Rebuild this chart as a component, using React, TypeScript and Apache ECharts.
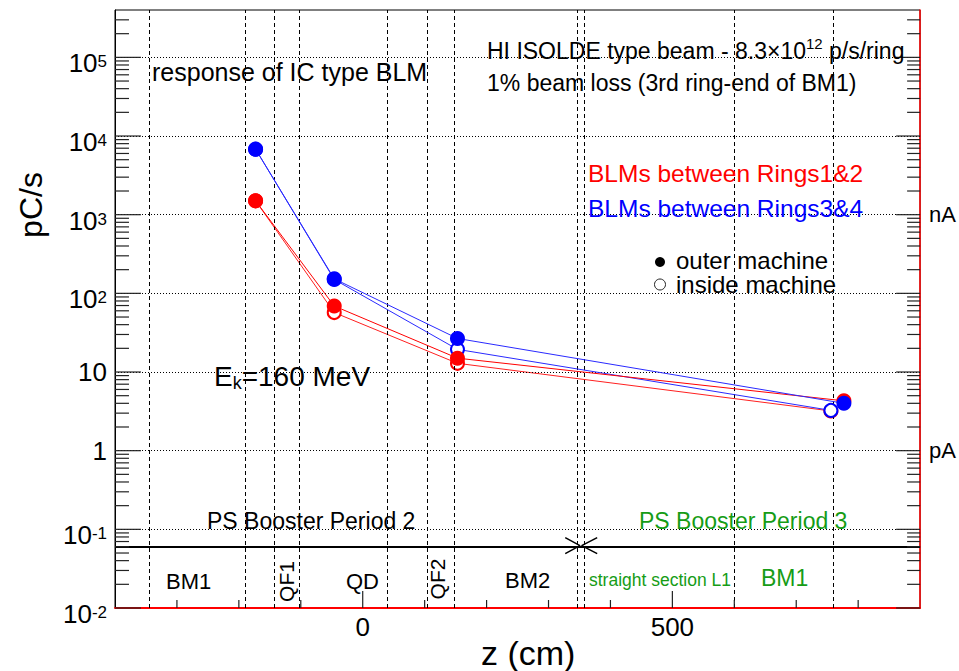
import React, { useEffect, useRef } from 'react';
import * as echarts from 'echarts';

const FONT = '"Liberation Sans", Arial, Helvetica, sans-serif';
const GREEN = '#169c16';

// ---- data (z in cm, response in pC/s) ----
const redOuter = [[-173, 1500], [-46, 69], [153, 15], [777, 4.3]];
const redInside = [[-173, 1500], [-46, 57], [153, 12.9], [756, 3.2]];
const blueOuter = [[-173, 6800], [-46, 153], [153, 26.7], [777, 4.0]];
const blueInside = [[-173, 6800], [-46, 150], [153, 19.4], [756, 3.25]];

// element boundaries along z (cm)
const boundaries = [-344, -190, -143, -103, 39, 105, 147, 347, 358, 600, 760];
// period separator level and junction marks
const periodLevel = 0.062;
const junctionLeft = [[327, 0.0784], [350.8, 0.062], [327, 0.049]];
const junctionRight = [[378.6, 0.0784], [353.5, 0.062], [378.6, 0.049]];

// axis ticks
const xMajorTicks = [0, 500];
const xMinorTicks = [-300, -200, -100, 100, 200, 300, 400, 600, 700, 800];
const yDecades = [0.01, 0.1, 1, 10, 100, 1000, 10000, 100000];
const yGridDecades = [0.1, 1, 10, 100, 1000, 10000, 100000];
const yRightLabels = [1, 1000];
const yRightNames: Record<string, string> = { '1': 'pA', '1000': 'nA' };
const yMinor: number[] = [];
yDecades.forEach((d) => {
  for (let m = 2; m <= 9; m++) {
    const v = +(d * m).toPrecision(6);
    if (v < 4e5) yMinor.push(v);
  }
});

const Y_MIN = 0.01;
const Y_MAX = 4e5;
const X_MIN = -400;
const X_MAX = 900;

// layout
const W = 959;
const H = 671;
const G = { left: 115, right: 38, top: 10, bottom: 63 };
const PX_PER_CM = (W - G.left - G.right) / (X_MAX - X_MIN);
const PX_PER_DEC = (H - G.top - G.bottom) / Math.log10(Y_MAX / Y_MIN);

function yLabel(v: number) {
  const e = Math.round(Math.log10(v));
  if (e === 0) return '{p|1}';
  if (e === 1) return '{p|10}';
  return `{b|10}{s|${e}}`;
}

function T(x: number, y: number, text: string, fontSize: number, fill = '#000', extra: any = {}) {
  return {
    type: 'text',
    x,
    y,
    z: 100,
    silent: true,
    style: { text, fontSize, fontFamily: FONT, fill, align: 'left', verticalAlign: 'middle', ...extra },
  };
}

export default function App() {
  const ref = useRef<HTMLDivElement>(null);
  useEffect(() => {
    if (!ref.current) return;
    const chart = echarts.init(ref.current, undefined, { renderer: 'svg' });

    // guide lines (element boundaries, decade grid, period separator)
    const markData: any[] = [];
    boundaries.forEach((b) =>
      markData.push({ xAxis: b, lineStyle: { type: [4, 3], color: '#000', width: 1 } })
    );
    yGridDecades.forEach((d) =>
      markData.push({ yAxis: d, lineStyle: { type: [1, 2], color: '#000', width: 1 } })
    );
    markData.push({ yAxis: periodLevel, lineStyle: { type: 'solid', color: '#000', width: 2 } });

    // inward tick marks, drawn as short segments through the axes' scales
    const tickSegs: number[][][] = [];
    const xTick = (v: number, len: number) =>
      tickSegs.push([[v, Y_MIN], [v, Y_MIN * Math.pow(10, len / PX_PER_DEC)]]);
    const yTickL = (v: number, len: number) =>
      tickSegs.push([[X_MIN, v], [X_MIN + len / PX_PER_CM, v]]);
    const yTickR = (v: number, len: number) =>
      tickSegs.push([[X_MAX, v], [X_MAX - len / PX_PER_CM, v]]);
    xMajorTicks.forEach((v) => xTick(v, 17));
    xMinorTicks.forEach((v) => xTick(v, 8));
    yDecades.forEach((v) => {
      yTickL(v, 26);
      yTickR(v, 24);
    });
    yMinor.forEach((v) => {
      yTickL(v, 14);
      yTickR(v, 13);
    });
    const tickSeries = tickSegs.map((seg, i) => ({
      type: 'line',
      name: 'tick' + i,
      data: seg,
      symbol: 'none',
      silent: true,
      clip: false,
      z: 9,
      lineStyle: { color: '#222', width: 1.2 },
    }));

    const option: any = {
      animation: false,
      textStyle: { fontFamily: FONT },
      grid: { ...G, show: true, borderColor: '#000', borderWidth: 1 },
      xAxis: [
        {
          type: 'value',
          min: X_MIN,
          max: X_MAX,
          position: 'bottom',
          splitLine: { show: false },
          axisLine: { show: true, onZero: false, lineStyle: { color: '#f00', width: 2 } },
          axisTick: { show: false },
          axisLabel: { customValues: xMajorTicks, fontSize: 26, color: '#000', margin: 6, fontFamily: FONT },
        },
      ],
      yAxis: [
        {
          type: 'log',
          logBase: 10,
          min: Y_MIN,
          max: Y_MAX,
          position: 'left',
          splitLine: { show: false },
          axisLine: { show: true, onZero: false, lineStyle: { color: '#000', width: 1 } },
          axisTick: { show: false },
          axisLabel: {
            customValues: yDecades,
            formatter: yLabel,
            margin: 8,
            color: '#000',
            rich: {
              p: { fontSize: 26, lineHeight: 28, padding: [6, 0, 6, 0], fontFamily: FONT, color: '#000' },
              b: { fontSize: 26, lineHeight: 28, padding: [12, 0, 0, 0], fontFamily: FONT, color: '#000' },
              s: { fontSize: 17, lineHeight: 14, padding: [10, 0, 0, 0], verticalAlign: 'top', fontFamily: FONT, color: '#000' },
            },
          },
        },
        {
          type: 'log',
          logBase: 10,
          min: Y_MIN,
          max: Y_MAX,
          position: 'right',
          splitLine: { show: false },
          axisLine: { show: true, onZero: false, lineStyle: { color: '#f00', width: 1.5 } },
          axisTick: { show: false },
          axisLabel: {
            customValues: yRightLabels,
            formatter: (v: number) => yRightNames[String(Math.round(v))] || '',
            fontSize: 22,
            margin: 9,
            color: '#000',
            fontFamily: FONT,
          },
        },
      ],
      series: [
        {
          type: 'line',
          name: 'guides',
          data: [],
          z: 1,
          silent: true,
          markLine: { silent: true, symbol: 'none', label: { show: false }, animation: false, data: markData },
        },
        ...tickSeries,
        {
          type: 'line',
          name: 'junctionL',
          data: junctionLeft,
          symbol: 'none',
          z: 3,
          lineStyle: { color: '#000', width: 1.5 },
        },
        {
          type: 'line',
          name: 'junctionR',
          data: junctionRight,
          symbol: 'none',
          z: 3,
          lineStyle: { color: '#000', width: 1.5 },
        },
        {
          type: 'line',
          name: 'Rings1&2 inside',
          data: redInside,
          symbol: 'emptyCircle',
          symbolSize: 13,
          z: 4,
          itemStyle: { color: '#ff0000', borderWidth: 1.2 },
          lineStyle: { color: '#ff2020', width: 1 },
        },
        {
          type: 'line',
          name: 'Rings3&4 inside',
          data: blueInside,
          symbol: 'emptyCircle',
          symbolSize: 13,
          z: 5,
          itemStyle: { color: '#0000ff', borderWidth: 1.2 },
          lineStyle: { color: '#2a2aff', width: 1 },
        },
        {
          type: 'line',
          name: 'Rings1&2 outer',
          data: redOuter,
          symbol: 'circle',
          symbolSize: 15,
          z: 6,
          itemStyle: { color: '#ff0000' },
          lineStyle: { color: '#ff0000', width: 1 },
        },
        {
          type: 'line',
          name: 'Rings3&4 outer',
          data: blueOuter,
          symbol: 'circle',
          symbolSize: 15,
          z: 7,
          itemStyle: { color: '#0000ff' },
          lineStyle: { color: '#2a2aff', width: 1 },
        },
      ],
      graphic: [
        T(152, 72, 'response of IC type BLM', 25),
        T(487, 49, '{a|HI ISOLDE type beam - 8.3×10}{s|12}{a| p/s/ring}', 23, '#000', {
          rich: {
            a: { fontSize: 23, lineHeight: 26, verticalAlign: 'bottom', fontFamily: FONT, fill: '#000' },
            s: { fontSize: 15, lineHeight: 10, verticalAlign: 'top', fontFamily: FONT, fill: '#000' },
          },
        }),
        T(487, 83, '1% beam loss (3rd ring-end of BM1)', 23),
        T(588, 173, 'BLMs between Rings1&2', 24.5, '#ff0000'),
        T(588, 208, 'BLMs between Rings3&4', 24.5, '#0000ff'),
        { type: 'circle', z: 100, shape: { cx: 660, cy: 262, r: 5 }, style: { fill: '#000' } },
        { type: 'circle', z: 100, shape: { cx: 660, cy: 284.5, r: 5.5 }, style: { fill: '#fff', stroke: '#222', lineWidth: 1 } },
        T(676, 260, 'outer machine', 24, '#000', { lineHeight: 20 }),
        T(676, 284, 'inside machine', 24, '#000', { lineHeight: 20 }),
        T(214, 377, '{a|E}{k|k}{a|=160 MeV}', 28, '#000', {
          rich: {
            a: { fontSize: 28, lineHeight: 30, verticalAlign: 'top', fontFamily: FONT, fill: '#000' },
            k: { fontSize: 18, lineHeight: 14, verticalAlign: 'bottom', fontFamily: FONT, fill: '#000' },
          },
        }),
        T(207, 521, 'PS Booster Period 2', 23),
        T(639, 521, 'PS Booster Period 3', 23, GREEN),
        T(166, 581, 'BM1', 22),
        { type: 'text', x: 286.5, y: 581.5, rotation: Math.PI / 2, z: 100, style: { text: 'QF1', fontSize: 21, fontFamily: FONT, fill: '#000', align: 'center', verticalAlign: 'middle' } },
        { type: 'text', x: 362.5, y: 581, z: 100, style: { text: 'QD', fontSize: 22, fontFamily: FONT, fill: '#000', align: 'center', verticalAlign: 'middle' } },
        { type: 'text', x: 437, y: 579, rotation: Math.PI / 2, z: 100, style: { text: 'QF2', fontSize: 21, fontFamily: FONT, fill: '#000', align: 'center', verticalAlign: 'middle' } },
        T(505, 580, 'BM2', 22),
        T(589, 580, 'straight section L1', 17.5, GREEN),
        T(761, 578, 'BM1', 23, GREEN),
        { type: 'text', x: 31, y: 205, rotation: Math.PI / 2, z: 100, style: { text: 'pC/s', fontSize: 32, fontFamily: FONT, fill: '#000', align: 'center', verticalAlign: 'middle' } },
        T(481, 653, 'z (cm)', 34),
      ],
    };
    chart.setOption(option);
    return () => chart.dispose();
  }, []);
  return (
    <div
      ref={ref}
      style={{ position: 'fixed', left: 0, top: 0, width: W, height: H, background: '#fff' }}
    />
  );
}
